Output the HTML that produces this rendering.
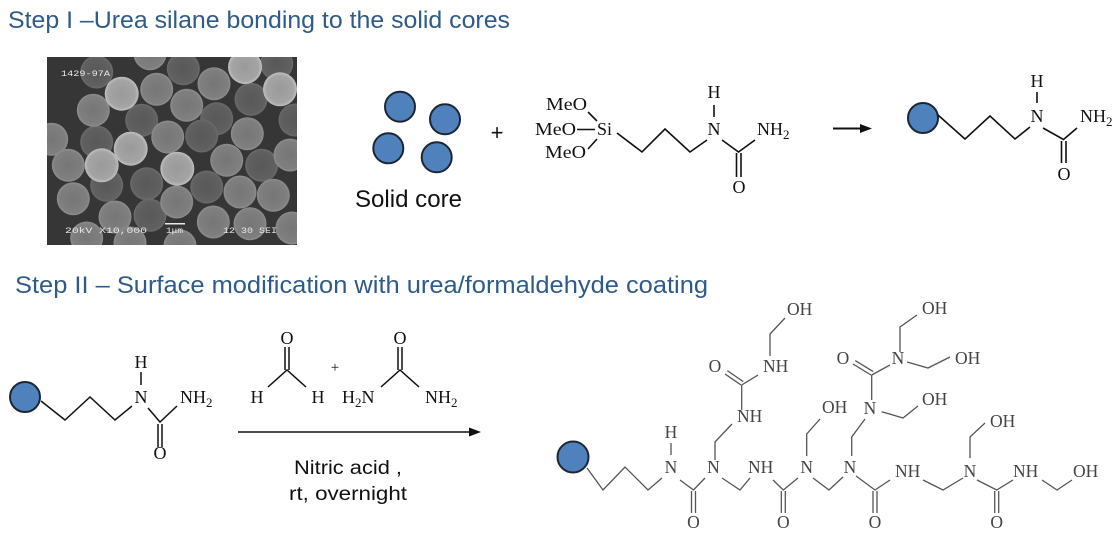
<!DOCTYPE html>
<html><head><meta charset="utf-8"><style>
html,body{margin:0;padding:0;background:#fff;}
svg{display:block;}
.t{font-family:"Liberation Sans",sans-serif;}
.c{font-family:"Liberation Serif",serif;font-size:18px;}
.p{font-family:"Liberation Serif",serif;font-size:17.5px;fill:#444;}
</style></head><body>
<svg width="1117" height="551" viewBox="0 0 1117 551" xmlns="http://www.w3.org/2000/svg">
<defs>
<clipPath id="semclip"><rect x="47" y="57" width="250" height="188"/></clipPath>
<radialGradient id="gd" cx="0.5" cy="0.5" r="0.5"><stop offset="0" stop-color="#585858"/><stop offset="0.85" stop-color="#606060"/><stop offset="1" stop-color="#6c6c6c"/></radialGradient>
<radialGradient id="gm" cx="0.5" cy="0.5" r="0.5"><stop offset="0" stop-color="#767676"/><stop offset="0.85" stop-color="#7f7f7f"/><stop offset="1" stop-color="#8f8f8f"/></radialGradient>
<radialGradient id="gl" cx="0.5" cy="0.5" r="0.5"><stop offset="0" stop-color="#9a9a9a"/><stop offset="0.8" stop-color="#a4a4a4"/><stop offset="1" stop-color="#c0c0c0"/></radialGradient>
</defs>

<!-- Titles -->
<text class="t" x="8" y="28" font-size="24" fill="#2f5b8a" textLength="502" lengthAdjust="spacingAndGlyphs">Step I –Urea silane bonding to the solid cores</text>
<text class="t" x="15" y="293" font-size="24" fill="#2f5b8a" textLength="693" lengthAdjust="spacingAndGlyphs">Step II – Surface modification with urea/formaldehyde coating</text>

<!-- SEM image -->
<g clip-path="url(#semclip)">
<rect x="47" y="57" width="250" height="188" fill="#363636"/>
<g fill="url(#gd)">
<circle cx="96.7" cy="72" r="16.5"/>
<circle cx="183.3" cy="68.7" r="16.5"/>
<circle cx="276.7" cy="63.7" r="16.5"/>
<circle cx="251" cy="99.3" r="16.5"/>
<circle cx="141.7" cy="120.3" r="16.5"/>
<circle cx="216.7" cy="118.7" r="16.5"/>
<circle cx="96.7" cy="142" r="16.5"/>
<circle cx="201.7" cy="136" r="16.5"/>
<circle cx="261.7" cy="165.3" r="16.5"/>
<circle cx="146.7" cy="183.7" r="16.5"/>
<circle cx="106.7" cy="185.3" r="16.5"/>
<circle cx="206.7" cy="187" r="16.5"/>
<circle cx="150" cy="215.3" r="16.5"/>
<circle cx="295" cy="120" r="16.5"/>
</g>
<g fill="url(#gm)">
<circle cx="150" cy="53.7" r="16.5"/>
<circle cx="156.7" cy="89.3" r="16.5"/>
<circle cx="214" cy="83.7" r="16.5"/>
<circle cx="93.3" cy="110.3" r="16.5"/>
<circle cx="186.7" cy="105.3" r="16.5"/>
<circle cx="51.7" cy="139.3" r="16.5"/>
<circle cx="167.7" cy="137" r="16.5"/>
<circle cx="247.3" cy="133.7" r="16.5"/>
<circle cx="68.3" cy="165.3" r="16.5"/>
<circle cx="226.7" cy="160.3" r="16.5"/>
<circle cx="290" cy="155" r="16.5"/>
<circle cx="240" cy="192" r="16.5"/>
<circle cx="273.3" cy="195.3" r="16.5"/>
<circle cx="73.3" cy="198.7" r="16.5"/>
<circle cx="176.7" cy="202" r="16.5"/>
<circle cx="115" cy="217" r="16.5"/>
<circle cx="213.3" cy="222" r="16.5"/>
<circle cx="250" cy="223.7" r="16.5"/>
<circle cx="86.7" cy="238" r="16.5"/>
<circle cx="130" cy="243" r="16.5"/>
<circle cx="292" cy="228" r="16.5"/>
<circle cx="180" cy="246" r="16.5"/>
</g>
<g fill="url(#gl)">
<circle cx="245" cy="67" r="17"/>
<circle cx="121.7" cy="93.7" r="17"/>
<circle cx="280" cy="89.3" r="17"/>
<circle cx="130.7" cy="148.7" r="17"/>
<circle cx="101.7" cy="165.3" r="17"/>
<circle cx="177.3" cy="168.7" r="17"/>
</g>
<g fill="#e8e8e8" font-family="Liberation Mono, monospace" font-size="8.5">
<text x="61" y="76" textLength="49" lengthAdjust="spacingAndGlyphs">1429-97A</text>
<text x="65" y="233" textLength="82" lengthAdjust="spacingAndGlyphs">20kV  X10,000</text>
<text x="166" y="233" textLength="17" lengthAdjust="spacingAndGlyphs">1μm</text>
<text x="223" y="233" textLength="54" lengthAdjust="spacingAndGlyphs">12 30 SEI</text>
</g>
<rect x="165" y="223" width="20" height="1.5" fill="#e8e8e8"/>
</g>

<!-- Solid cores -->
<g fill="#4f81bd" stroke="#1d2633" stroke-width="2">
<circle cx="400" cy="106.7" r="15"/>
<circle cx="445" cy="119.3" r="15"/>
<circle cx="388.3" cy="148.3" r="15"/>
<circle cx="436.7" cy="157.3" r="15"/>
</g>
<text class="t" x="355" y="207" font-size="24" fill="#111" textLength="107" lengthAdjust="spacingAndGlyphs">Solid core</text>
<text class="t" x="497" y="140" font-size="22" fill="#111" text-anchor="middle">+</text>

<!-- Step I silane -->
<g stroke="#111" stroke-width="1.6" fill="none">
<line x1="577" y1="129.5" x2="595" y2="129.5"/>
<line x1="588" y1="112" x2="597" y2="121"/>
<line x1="597" y1="139" x2="588" y2="149"/>
<polyline points="617,133 642,152 665,129 690,152 707,140"/>
<line x1="714" y1="105" x2="714" y2="117"/>
<polyline points="722,140 738.5,152 755,140"/>
<line x1="736.5" y1="153" x2="736.5" y2="177"/>
<line x1="741" y1="153" x2="741" y2="177"/>
</g>
<g class="c" fill="#111">
<text x="546" y="110" textLength="41" lengthAdjust="spacingAndGlyphs">MeO</text>
<text x="535" y="135" textLength="41" lengthAdjust="spacingAndGlyphs">MeO</text>
<text x="545" y="158" textLength="41" lengthAdjust="spacingAndGlyphs">MeO</text>
<text x="597" y="135">Si</text>
<text x="714" y="135" text-anchor="middle">N</text>
<text x="714" y="98" text-anchor="middle">H</text>
<text x="739" y="193" text-anchor="middle">O</text>
<text x="757" y="135">NH<tspan font-size="13" dy="4">2</tspan></text>
</g>

<!-- Step I arrow -->
<line x1="833" y1="128.5" x2="862" y2="128.5" stroke="#111" stroke-width="2"/>
<polygon points="872,128.5 860,124 860,133" fill="#111"/>

<!-- Step I product -->
<circle cx="923" cy="118" r="15" fill="#4f81bd" stroke="#1d2633" stroke-width="2"/>
<g stroke="#111" stroke-width="1.6" fill="none">
<polyline points="938,115 965,139 990,116 1015,139 1030,127"/>
<line x1="1037" y1="92" x2="1037" y2="103"/>
<polyline points="1043,128 1063.5,139.5 1077,128"/>
<line x1="1061.5" y1="141" x2="1061.5" y2="163"/>
<line x1="1066" y1="141" x2="1066" y2="163"/>
</g>
<g class="c" fill="#111">
<text x="1037" y="122" text-anchor="middle">N</text>
<text x="1037" y="87" text-anchor="middle">H</text>
<text x="1064" y="180" text-anchor="middle">O</text>
<text x="1080" y="122">NH<tspan font-size="13" dy="4">2</tspan></text>
</g>

<!-- Step II reactant -->
<circle cx="25" cy="397" r="15" fill="#4f81bd" stroke="#1d2633" stroke-width="2"/>
<g stroke="#111" stroke-width="1.5" fill="none">
<polyline points="41,401 65,420 90,397 115,420 132,406"/>
<line x1="141" y1="372" x2="141" y2="385"/>
<polyline points="148,408 160,422 177,406"/>
<line x1="158" y1="424" x2="158" y2="447"/>
<line x1="162" y1="424" x2="162" y2="447"/>
<!-- formaldehyde -->
<line x1="285" y1="347" x2="285" y2="370"/>
<line x1="289" y1="347" x2="289" y2="370"/>
<polyline points="268,387 287,370 306,387"/>
<!-- urea -->
<line x1="398" y1="347" x2="398" y2="370"/>
<line x1="402" y1="347" x2="402" y2="370"/>
<polyline points="381,387 400,370 419,387"/>
</g>
<g class="c" fill="#111">
<text x="141" y="403" text-anchor="middle">N</text>
<text x="141" y="368" text-anchor="middle">H</text>
<text x="160" y="459" text-anchor="middle">O</text>
<text x="180" y="403">NH<tspan font-size="13" dy="4">2</tspan></text>
<text x="287" y="344" text-anchor="middle">O</text>
<text x="257" y="403" text-anchor="middle">H</text>
<text x="318" y="403" text-anchor="middle">H</text>
<text x="335" y="372" text-anchor="middle" font-size="15">+</text>
<text x="400" y="344" text-anchor="middle">O</text>
<text x="342" y="403">H<tspan font-size="13" dy="4">2</tspan><tspan dy="-4">N</tspan></text>
<text x="425" y="403">NH<tspan font-size="13" dy="4">2</tspan></text>
</g>

<!-- Step II arrow -->
<line x1="238" y1="432" x2="471" y2="432" stroke="#111" stroke-width="1.6"/>
<polygon points="481,432 469,427.5 469,436.5" fill="#111"/>
<text class="t" x="348" y="474" font-size="19" fill="#111" text-anchor="middle" textLength="108" lengthAdjust="spacingAndGlyphs">Nitric acid ,</text>
<text class="t" x="348" y="500" font-size="19" fill="#111" text-anchor="middle" textLength="118" lengthAdjust="spacingAndGlyphs">rt, overnight</text>

<!-- Step II product -->
<circle cx="573" cy="457" r="15.5" fill="#4f81bd" stroke="#1d2633" stroke-width="2"/>
<g stroke="#555" stroke-width="1.3" fill="none">
<polyline points="587,468 603,490 625,467 648,490 662,478"/>
<line x1="671" y1="443" x2="671" y2="455"/>
<polyline points="680,480 693.5,490 705,478"/>
<line x1="691.5" y1="491" x2="691.5" y2="513"/>
<line x1="695.5" y1="491" x2="695.5" y2="513"/>
<polyline points="715,460 715,442 732,424"/>
<line x1="741.7" y1="410" x2="741.7" y2="385"/>
<line x1="741" y1="385" x2="725" y2="374"/>
<line x1="743.3" y1="381.6" x2="727.3" y2="370.6"/>
<line x1="741.7" y1="385" x2="758" y2="375"/>
<polyline points="770,356 770,334 785,318"/>
<polyline points="722,478 740,490 750,478"/>
<polyline points="773,480 783.3,490 798,478"/>
<line x1="781.3" y1="491" x2="781.3" y2="513"/>
<line x1="785.3" y1="491" x2="785.3" y2="513"/>
<polyline points="806.7,456 806.7,434 820,419"/>
<polyline points="813,478 829,490 843,477"/>
<polyline points="851.7,456 851.7,437 865,419"/>
<polyline points="881.7,411.7 903,418 918,406"/>
<line x1="871.7" y1="400" x2="871.7" y2="375"/>
<line x1="871" y1="375" x2="853" y2="364"/>
<line x1="873.2" y1="371.6" x2="855.2" y2="360.6"/>
<line x1="871.7" y1="375" x2="890" y2="365"/>
<polyline points="907,362 928,368 950,357"/>
<polyline points="900,352 900,327 917,315"/>
<polyline points="856,476 875,490 890,480"/>
<line x1="873" y1="491" x2="873" y2="513"/>
<line x1="877" y1="491" x2="877" y2="513"/>
<polyline points="923,480 943,490 963,478"/>
<polyline points="970,458 970,437 985,423"/>
<polyline points="977,480 996.7,490 1013,480"/>
<line x1="994.7" y1="491" x2="994.7" y2="513"/>
<line x1="998.7" y1="491" x2="998.7" y2="513"/>
<polyline points="1042,480 1057,490 1072,480"/>
</g>
<g class="p">
<text x="671" y="473" text-anchor="middle">N</text>
<text x="671" y="438" text-anchor="middle">H</text>
<text x="693.5" y="528" text-anchor="middle">O</text>
<text x="713.5" y="473" text-anchor="middle">N</text>
<text x="737" y="422">NH</text>
<text x="715" y="372" text-anchor="middle">O</text>
<text x="763" y="372">NH</text>
<text x="787" y="315">OH</text>
<text x="748" y="473">NH</text>
<text x="783.3" y="528" text-anchor="middle">O</text>
<text x="806.7" y="473" text-anchor="middle">N</text>
<text x="822" y="413">OH</text>
<text x="850" y="473" text-anchor="middle">N</text>
<text x="870" y="414" text-anchor="middle">N</text>
<text x="922" y="405">OH</text>
<text x="843" y="364" text-anchor="middle">O</text>
<text x="898" y="364" text-anchor="middle">N</text>
<text x="955" y="364">OH</text>
<text x="922" y="314">OH</text>
<text x="875" y="528" text-anchor="middle">O</text>
<text x="895" y="477">NH</text>
<text x="970" y="477" text-anchor="middle">N</text>
<text x="990" y="427">OH</text>
<text x="996.7" y="528" text-anchor="middle">O</text>
<text x="1013" y="477">NH</text>
<text x="1073" y="477">OH</text>
</g>
</svg>
</body></html>
